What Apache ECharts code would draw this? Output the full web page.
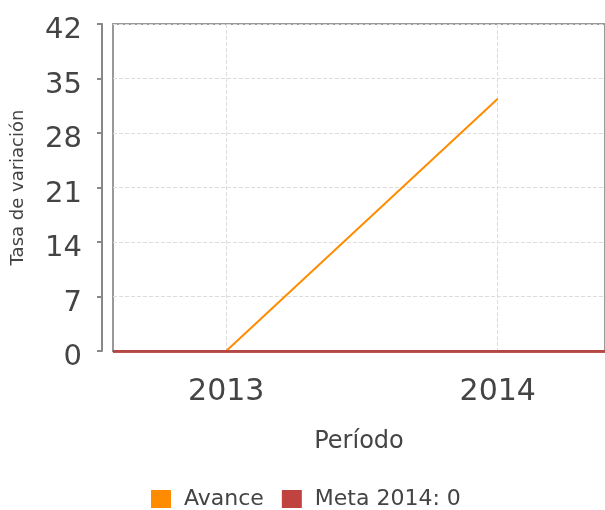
<!DOCTYPE html>
<html><head><meta charset="utf-8">
<script src="https://cdn.jsdelivr.net/npm/echarts@6/dist/echarts.min.js"></script>
<style>html,body{margin:0;padding:0;background:#fff}#c{width:605px;height:510px}</style>
</head><body><div id="c"></div>
<script>
const years = [2013, 2014];
const avance = [0, 32.4];
const metaValue = [0];
const yTicks = [0, 7, 14, 21, 28, 35, 42];
const seriesNames = ['Avance', 'Meta 2014: 0'];

const chart = echarts.init(document.getElementById('c'));
const font = 'DejaVu Sans';
chart.setOption({
  animation: false,
  textStyle: { fontFamily: font },
  grid: { left: 113, top: 24, right: 0, bottom: 159, show: true, borderColor: '#999', borderWidth: 2, backgroundColor: 'transparent' },
  legend: {
    left: 146, top: 483, itemWidth: 20, itemHeight: 18, itemGap: 18,
    icon: 'rect',
    textStyle: { fontSize: 22, color: '#444', fontFamily: font, padding: [0, 0, 0, 8] },
    data: seriesNames
  },
  xAxis: {
    type: 'value', min: 2012.583, max: 2014.395,
    offset: 12,
    name: 'Período', nameLocation: 'middle', nameGap: 67,
    nameTextStyle: { fontSize: 24, color: '#444', fontFamily: font },
    axisLine: { show: true, lineStyle: { color: '#888', width: 2 } },
    axisTick: { show: false, customValues: years },
    axisLabel: { customValues: years, fontSize: 30, color: '#444', margin: 14, formatter: v => String(v) },
    splitLine: { show: true, lineStyle: { type: 'dashed', color: '#ddd', width: 1 } }
  },
  yAxis: {
    type: 'value', min: yTicks[0], max: yTicks[yTicks.length - 1], interval: 7,
    offset: 11,
    name: 'Tasa de variación', nameLocation: 'middle', nameGap: 75,
    nameTextStyle: { fontSize: 18, color: '#444', fontFamily: font },
    axisLine: { show: true, lineStyle: { color: '#888', width: 2 } },
    axisTick: { show: true, length: 5, lineStyle: { color: '#888', width: 2 } },
    axisLabel: {
      margin: 20,
      formatter: v => '{a|' + v + '}',
      rich: { a: { fontSize: 29, color: '#444', fontFamily: font, padding: [13, 0, 0, 0] } }
    },
    splitLine: { show: true, lineStyle: { type: 'dashed', color: '#ddd', width: 1 } }
  },
  series: [
    {
      name: seriesNames[0], type: 'line', color: '#ff8c00', showSymbol: false, symbol: 'none',
      lineStyle: { width: 2, color: '#ff8c00' },
      data: years.map((y, i) => [y, avance[i]])
    },
    {
      name: seriesNames[1], type: 'line', color: '#c0433f', showSymbol: false, symbol: 'none',
      data: [],
      markLine: {
        silent: true, symbol: 'none', label: { show: false },
        lineStyle: { color: '#b8403c', width: 3, type: 'solid', opacity: 0.9 },
        data: metaValue.map(v => ({ yAxis: v }))
      }
    }
  ]
});
</script></body></html>
